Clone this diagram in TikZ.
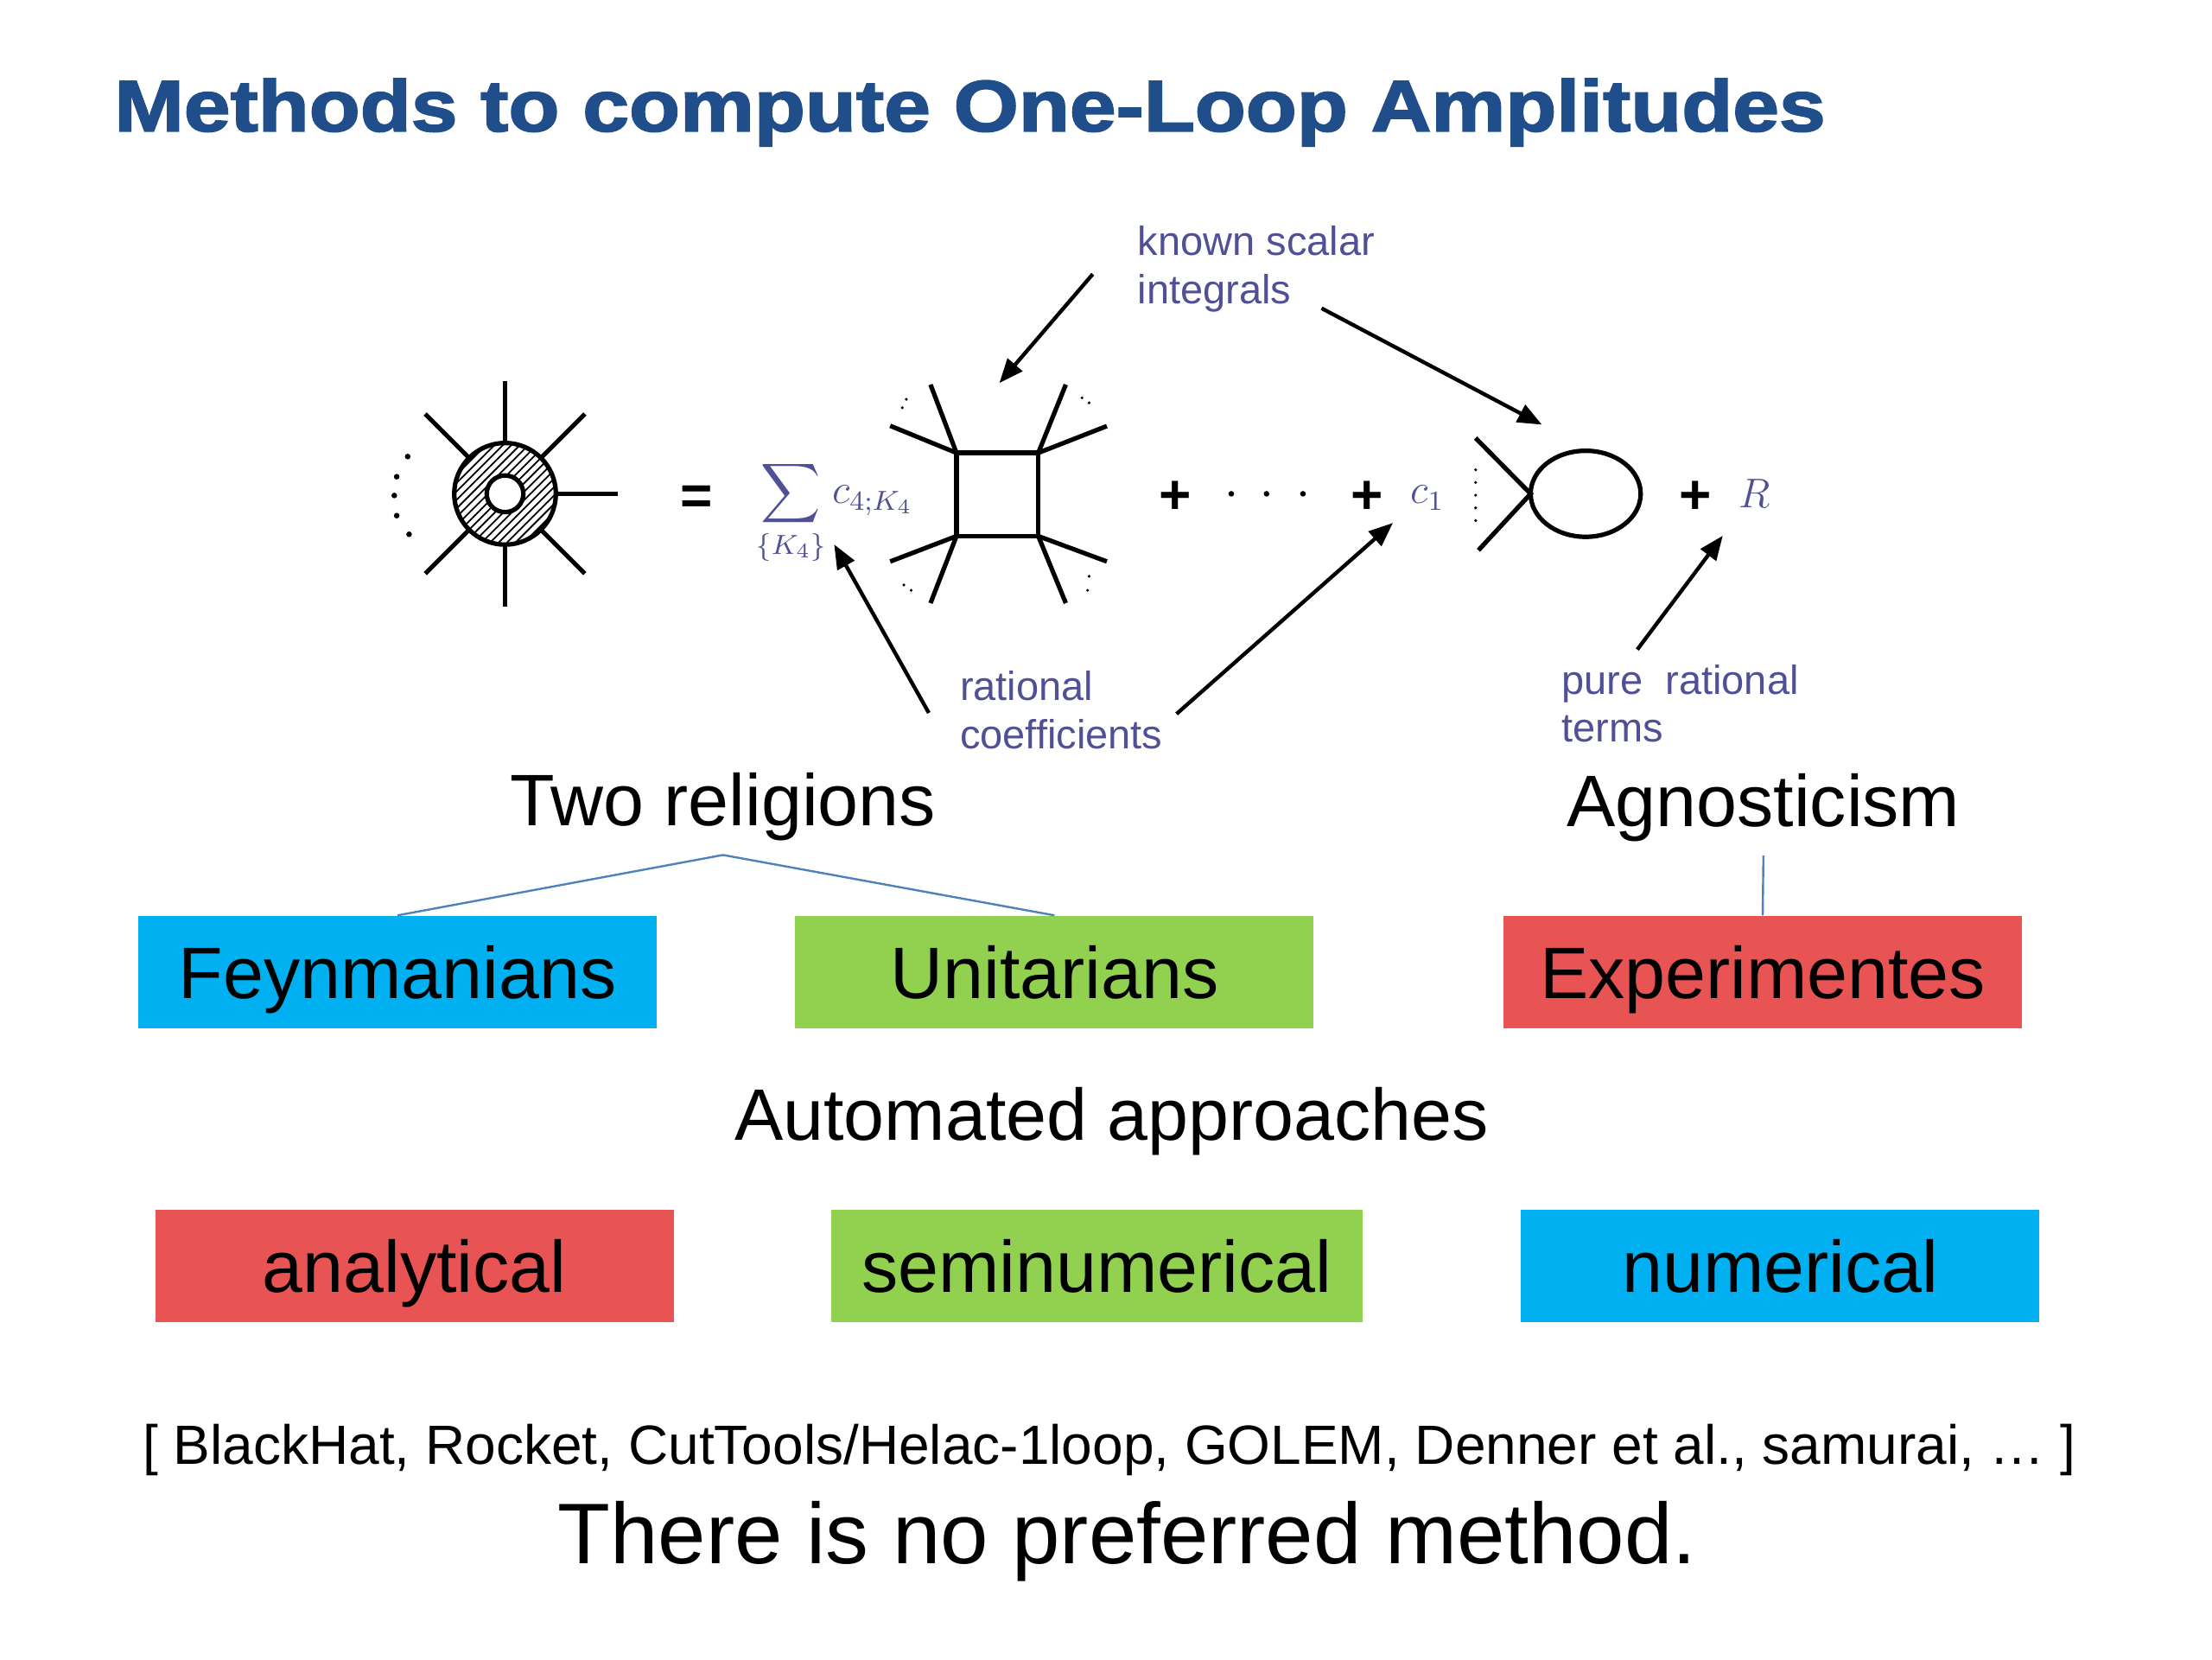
\documentclass[tikz,border=0pt]{standalone}
\usepackage{amsmath}
\usepackage{fontspec}
\usepackage{graphicx}
\setmainfont{Liberation Sans}
\newfontfamily\titlefont{Liberation Sans}[BoldFeatures={FakeBold=2}]
\usetikzlibrary{arrows.meta}
\definecolor{titleblue}{RGB}{31,78,138}
\definecolor{annot}{RGB}{80,80,150}
\definecolor{cyanbox}{RGB}{0,176,240}
\definecolor{greenbox}{RGB}{146,208,80}
\definecolor{redbox}{RGB}{232,84,84}
\definecolor{treeline}{RGB}{79,129,189}
\begin{document}
\begin{tikzpicture}[x=0.408163pt,y=-0.408163pt,
  dline/.style={line width=1.3pt},
  arr/.style={line width=1.1pt,-{Triangle[length=7pt,width=5.5pt]}},
  annottext/.style={text=annot,font=\fontsize{11.75pt}{14pt}\selectfont,inner sep=0,anchor=base west},
  mathlbl/.style={text=annot,font=\fontsize{11.5pt}{14pt}\selectfont,inner sep=0,anchor=base west},
  opsym/.style={font=\bfseries\fontsize{16pt}{16pt}\selectfont,inner sep=0,anchor=base},
  big/.style={font=\fontsize{21.1pt}{25pt}\selectfont,inner sep=0,anchor=base},
  catbox/.style={font=\fontsize{21.1pt}{25pt}\selectfont,inner sep=0,
    minimum width={367.5*0.408163pt},minimum height={79.6*0.408163pt},
    text height=15.1pt,text depth=0pt},
  tree/.style={draw=treeline,line width=0.6pt}
]
\useasboundingbox (0,0) rectangle (1568,1176);

% title
\node[anchor=base west,inner sep=0,text=titleblue] (title) at (80.6,93)
  {\titlefont\bfseries\fontsize{21pt}{25pt}\selectfont\scalebox{1.15}[1]{Methods to compute One-Loop Amplitudes}};

% ---- left blob
\begin{scope}
  \clip (358,350) circle [radius=36];
  \foreach \i in {-84,-78,...,84}
    \draw[line width=0.45pt] (358+\i-45,395) -- (358+\i+45,305);
\end{scope}
\draw[dline,fill=white] (358,350) circle [radius=13];
\draw[dline] (358,350) circle [radius=36];
\foreach \a in {0,45,90,135,225,270,315}
  \draw[dline] (358,350) ++(\a:36) -- ++(\a:44);
\foreach \x/\y in {289/323.6,281.2/337.9,279.5/351.2,281.2/365.5,290/378.7}
  \fill (\x,\y) circle [radius=2];

\node[opsym] (eq) at (494,365) {=};
\node[mathlbl] (sum) at (536,357) {$\displaystyle\sum_{\{K_4\}} c_{4;K_4}$};

% ---- box diagram
\draw[dline] (678,321) rectangle (736,380);
\draw[dline] (678,321) -- (659.6,272.6);
\draw[dline] (678,321) -- (631,301.8);
\draw[dline] (736,321) -- (755.5,272.6);
\draw[dline] (736,321) -- (784.6,302);
\draw[dline] (678,380) -- (659.6,427.5);
\draw[dline] (678,380) -- (631,398);
\draw[dline] (736,380) -- (755.5,427.5);
\draw[dline] (736,380) -- (784.6,398);
\foreach \x/\y in {642.5/283,639.6/289,767/282,772/285.5,640.7/414.6,645.9/418.4,772/408.5,771/418.4}
  \fill (\x,\y) circle [radius=1.1];

\node[opsym] (p1) at (833,364) {+};
\foreach \x in {872.8,897.8,923.6}
  \fill (\x,350) circle [radius=2];
\node[opsym] (p2) at (969,364) {+};
\node[mathlbl] (c1) at (999.3,357) {$c_1$};

% ---- bubble
\foreach \y in {333,342,351,360,369}
  \fill (1046,\y) circle [radius=1.1];
\draw[dline] (1046,310.5) -- (1085,350) -- (1048,390);
\draw[dline] (1124,350) ellipse [x radius=39, y radius=30.5];

\node[opsym] (p3) at (1202,364) {+};
\node[mathlbl] (R) at (1232,360) {$R$};

% ---- annotations
\node[annottext] (known1) at (806,180.7) {known scalar};
\node[annottext] (known2) at (806,215.4) {integrals};
\node[annottext] (rat1) at (680,496.5) {rational};
\node[annottext] (rat2) at (680,530.8) {coefficients};
\node[annottext] (pure1) at (1106.5,492) {pure\ \ rational};
\node[annottext] (pure2) at (1106.5,525.7) {terms};

\coordinate (a1s) at (774.6,194.3);
\coordinate (a1e) at (708.4,271.5);
\coordinate (a2s) at (936.8,218.5);
\coordinate (a2e) at (1093,301);
\coordinate (a3s) at (658.4,505.3);
\coordinate (a3e) at (591.3,385.9);
\coordinate (a4s) at (834,506);
\coordinate (a4e) at (987.4,370.6);
\coordinate (a5s) at (1160.6,460.4);
\coordinate (a5e) at (1221.2,379.7);
\draw[arr] (a1s) -- (a1e);
\draw[arr] (a2s) -- (a2e);
\draw[arr] (a3s) -- (a3e);
\draw[arr] (a4s) -- (a4e);
\draw[arr] (a5s) -- (a5e);

% ---- tree
\node[big] (tworel) at (512.5,585) {Two religions};
\node[big] (agn) at (1250,586) {Agnosticism};
\coordinate (apex) at (512.5,606);
\coordinate (agbot) at (1250,606.4);

\node[catbox,fill=cyanbox] (feyn) at (281.8,689.1) {Feynmanians};
\node[catbox,fill=greenbox] (unit) at (747.5,689.1) {Unitarians};
\node[catbox,fill=redbox] (expm) at (1249.5,689.1) {Experimentes};
\draw[tree] (apex) -- (feyn.north);
\draw[tree] (apex) -- (unit.north);
\draw[tree] (agbot) -- (expm.north);

\node[big] (auto) at (788,808) {Automated approaches};

\node[catbox,fill=redbox] (ana) at (293.7,897.2) {analytical};
\node[catbox,fill=greenbox,minimum width={377*0.408163pt}] (semi) at (777.5,897.2) {seminumerical};
\node[catbox,fill=cyanbox] (num) at (1262,897.2) {numerical};

\node[anchor=base,inner sep=0,font=\fontsize{16pt}{18pt}\selectfont] (tools) at (786.5,1038)
  {[ BlackHat, Rocket, CutTools/Helac-1loop, GOLEM, Denner et al., samurai, … ]};
\node[anchor=base,inner sep=0,font=\fontsize{24.9pt}{28pt}\selectfont] (pref) at (799,1108.6)
  {There is no preferred method.};
\end{tikzpicture}
\end{document}
